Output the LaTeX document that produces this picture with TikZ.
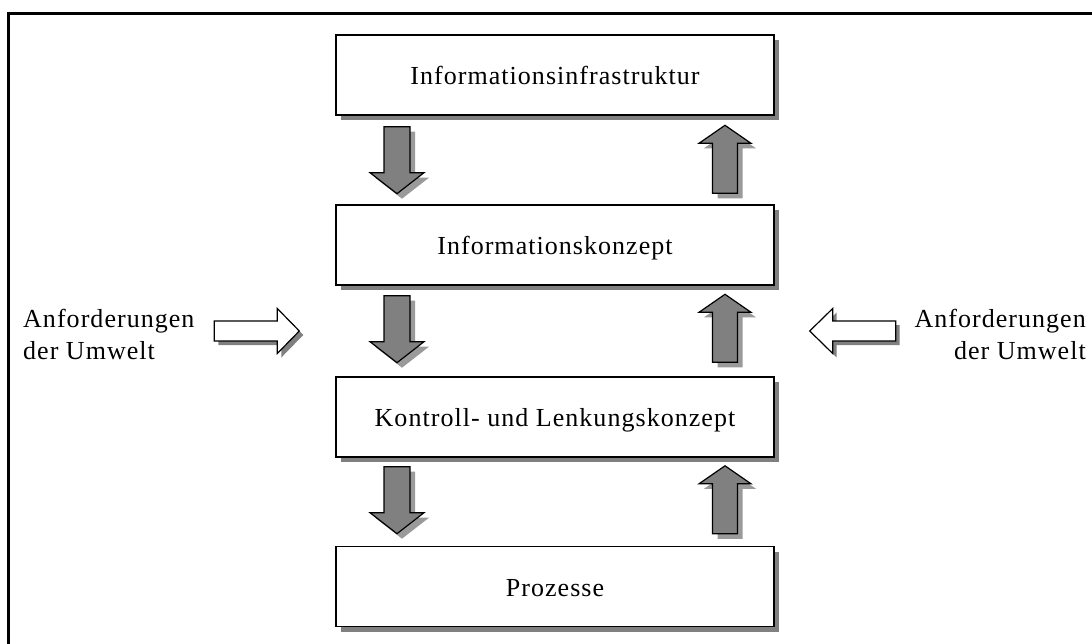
\documentclass[tikz,border=0pt]{standalone}
\usepackage{fontspec}
\setmainfont{Liberation Serif}
\newfontfamily\labelfont[LetterSpace=4]{Liberation Serif}
\usetikzlibrary{calc,shadows}
\definecolor{shaftgray}{HTML}{808080}
\definecolor{castgray}{HTML}{9A9A9A}
\begin{document}
\begin{tikzpicture}[x=1pt,y=-1pt,
  layerbox/.style={draw=black, line width=1.4pt, fill=white,
    minimum width=438pt, minimum height=80pt, inner sep=0pt,
    text height=19pt, text depth=0pt,
    font=\labelfont\fontsize{26}{30}\selectfont,
    drop shadow={shadow xshift=5pt, shadow yshift=-5pt, fill=shaftgray, opacity=1}},
  sidetext/.style={inner sep=0pt, font=\labelfont\fontsize{26}{32}\selectfont},
  pics/flowdown/.style={code={
    \fill[castgray,shift={(5,5)}] (-13,0) -- (13,0) -- (13,46) -- (27,46) -- (0,67)
      -- (-27,46) -- (-13,46) -- cycle;
    \filldraw[fill=shaftgray, draw=black, line width=1.2pt, line join=miter]
      (-13,0) -- (13,0) -- (13,46) -- (27,46) -- (0,67)
      -- (-27,46) -- (-13,46) -- cycle;
  }},
  pics/flowup/.style={code={
    \fill[castgray,shift={(5,5)}] (-12.5,0) -- (-12.5,-50) -- (-26,-50) -- (0,-68)
      -- (26,-50) -- (12.5,-50) -- (12.5,0) -- cycle;
    \filldraw[fill=shaftgray, draw=black, line width=1.2pt, line join=miter]
      (-12.5,0) -- (-12.5,-50) -- (-26,-50) -- (0,-68)
      -- (26,-50) -- (12.5,-50) -- (12.5,0) -- cycle;
  }},
  pics/pushright/.style={code={
    \fill[shaftgray,shift={(4,4)}] (-85,-10) -- (-22,-10) -- (-22,-22.5) -- (0,0)
      -- (-22,22.5) -- (-22,10) -- (-85,10) -- cycle;
    \filldraw[fill=white, draw=black, line width=1.2pt, line join=miter]
      (-85,-10) -- (-22,-10) -- (-22,-22.5) -- (0,0)
      -- (-22,22.5) -- (-22,10) -- (-85,10) -- cycle;
  }},
  pics/pushleft/.style={code={
    \fill[shaftgray,shift={(4,4)}] (86,-10) -- (23,-10) -- (23,-22.5) -- (0,0)
      -- (23,22.5) -- (23,10) -- (86,10) -- cycle;
    \filldraw[fill=white, draw=black, line width=1.2pt, line join=miter]
      (86,-10) -- (23,-10) -- (23,-22.5) -- (0,0)
      -- (23,22.5) -- (23,10) -- (86,10) -- cycle;
  }}
]
\useasboundingbox (0,0) rectangle (1092,644);
\clip (0,0) rectangle (1092,644);

% outer frame (runs off the right and bottom edges)
\draw[line width=3pt] (8.5,700) -- (8.5,14) -- (1150,14);

% the four layers
\node[layerbox] (infra)    at (555,75)    {Informationsinfrastruktur};
\node[layerbox] (konzept)  at (555,245)   {Informationskonzept};
\node[layerbox] (lenkung)  at (555,417)   {Kontroll- und Lenkungskonzept};
\node[layerbox] (prozesse) at (555,586.5) {Prozesse};

% downward flows
\pic at ([xshift=-158pt,yshift=-11pt]infra.south)   {flowdown};
\pic at ([xshift=-158pt,yshift=-10pt]konzept.south) {flowdown};
\pic at ([xshift=-158pt,yshift=-9pt]lenkung.south)  {flowdown};

% upward flows
\pic at ([xshift=170pt,yshift=11pt]konzept.north)  {flowup};
\pic at ([xshift=170pt,yshift=14pt]lenkung.north)  {flowup};
\pic at ([xshift=170pt,yshift=12pt]prozesse.north) {flowup};

% requirements from the environment
\coordinate (midleft)  at ($(konzept.south west)!0.5!(lenkung.north west)$);
\coordinate (midright) at ($(konzept.south east)!0.5!(lenkung.north east)$);
\pic at ([xshift=-36pt]midleft)  {pushright};
\pic at ([xshift=35pt]midright)  {pushleft};

\node[sidetext, anchor=west, align=left]  (envleft)  at (23,334)
  {Anforderungen\\der Umwelt};
\node[sidetext, anchor=east, align=right] (envright) at (1086,334)
  {Anforderungen\\der Umwelt};
\end{tikzpicture}
\end{document}
